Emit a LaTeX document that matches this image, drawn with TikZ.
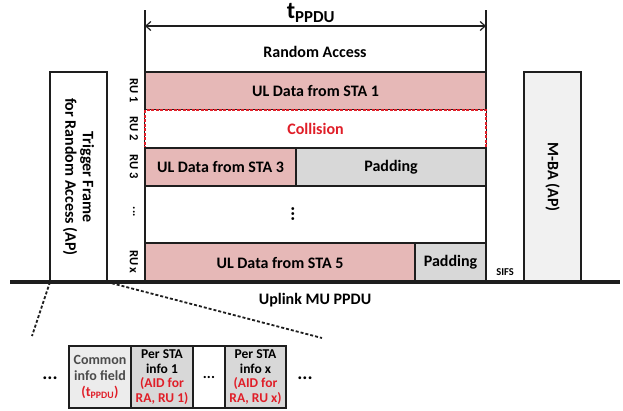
\documentclass[tikz,border=0pt]{standalone}
\usepackage{fontspec}
\setmainfont{Carlito}
\usetikzlibrary{arrows.meta,positioning,calc}
\definecolor{uldata}{RGB}{230,184,183}
\definecolor{padfill}{RGB}{216,216,216}
\definecolor{mbafill}{RGB}{241,241,241}
\definecolor{infofill}{RGB}{236,236,236}
\definecolor{collred}{RGB}{224,30,40}
\definecolor{edge}{RGB}{30,30,30}

\begin{document}
\begin{tikzpicture}[x=1pt,y=-1pt,
  font=\bfseries\fontsize{16}{17.5}\selectfont,
  slot/.style={draw=edge,line width=1.5pt,inner sep=0pt,outer sep=0pt,anchor=north west,align=center},
  data/.style={slot,fill=uldata},
  pad/.style={slot,fill=padfill},
  frame/.style={draw=edge,line width=1.5pt,inner sep=0pt,outer sep=0pt,rotate=-90,align=center,
    minimum width=210,minimum height=57},
  rulabel/.style={rotate=-90,font=\bfseries\fontsize{12.5}{14}\selectfont},
  field/.style={slot,minimum height=62,font=\bfseries\fontsize{13.5}{14.5}\selectfont},
  bound/.style={draw=edge,line width=1.5pt},
  tarrow/.style={{Straight Barb[length=5pt,width=9pt]}-{Straight Barb[length=5pt,width=9pt]},line width=1.2pt,draw=edge},
  zoomline/.style={dash pattern=on 3pt off 2pt,line width=1.8pt,draw=edge},
  ellip/.style={font=\bfseries\fontsize{19}{19}\selectfont}
]
\useasboundingbox (0,0) rectangle (623,410);

% PPDU limits and duration
\coordinate (topL) at (145,10);
\coordinate (botL) at (145,282);
\coordinate (topR) at (486,10);
\coordinate (botR) at (486,282);
\coordinate (tL) at (145,26);
\coordinate (tR) at (486,26);
\draw[bound] (topL) -- (botL);
\draw[bound] (topR) -- (botR);
\draw[tarrow] (tL) -- (tR);
\node (tppdu) at (311,13) {\fontsize{24}{24}\selectfont t\textsubscript{PPDU}};
\node (ra) at (315,52) {Random Access};

% resource units
\node[data,minimum width=341,minimum height=38] (sta1) at (145,72) {UL Data from STA 1};
\node[slot,draw=collred,fill=white,text=collred,dash pattern=on 3pt off 1.5pt,line width=1.2pt,
  minimum width=341,minimum height=38] (coll) at (145,110) {Collision};
\node[data,minimum width=151,minimum height=38] (sta3) at (145,148) {UL Data from STA 3};
\node[pad,minimum width=190,minimum height=38] (pad3) at (296,148) {Padding};
\node[ellip,rotate=-90] (vdots) at (293,214) {...};
\node[data,minimum width=270,minimum height=39] (sta5) at (145,243) {UL Data from STA 5};
\node[pad,minimum width=71,minimum height=39] (pad5) at (415,243) {Padding};

\node[rulabel] (ru1) at (134,91) {RU 1};
\node[rulabel] (ru2) at (134,129) {RU 2};
\node[rulabel] (ru3) at (134,167) {RU 3};
\node[rulabel] (rud) at (134,212) {...};
\node[rulabel] (rux) at (134,262) {RU x};

% frames around the PPDU
\node[frame,fill=white] (trig) at (78.5,177) {Trigger Frame\\for Random Access (AP)};
\node[frame,fill=mbafill] (mba) at (552.5,177) {M-BA (AP)};
\node[font=\bfseries\fontsize{10.5}{11}\selectfont] (sifs) at (505,272) {SIFS};

\coordinate (axisL) at (10,282);
\coordinate (axisR) at (620,282);
\draw[draw=edge,line width=3.5pt] (axisL) -- (axisR);
\node (ulmu) at (315,300) {Uplink MU PPDU};

% trigger frame content
\coordinate (zoomL) at (32,336);
\coordinate (zoomR) at (322,338);
\draw[zoomline] (trig.south east) -- (zoomL);
\draw[zoomline] (trig.north east) -- (zoomR);

\node[ellip] (ldots) at (50,378) {...};
\node[field,fill=infofill,minimum width=62,text=edge!80,font=\bfseries\fontsize{14}{16}\selectfont] (cif) at (69,346)
  {Common\\info field\\\textcolor{collred}{(t\textsubscript{PPDU})}};
\node[field,fill=padfill,minimum width=62] (sta1info) at (131,346)
  {Per STA\\info 1\\\textcolor{collred}{(AID for}\\\textcolor{collred}{RA, RU 1)}};
\node[field,fill=white,minimum width=32] (mdots) at (193,346) {\fontsize{15}{15}\selectfont...};
\node[field,fill=padfill,minimum width=61] (staxinfo) at (225,346)
  {Per STA\\info x\\\textcolor{collred}{(AID for}\\\textcolor{collred}{RA, RU x)}};
\node[ellip] (rdots) at (305,378) {...};
\end{tikzpicture}
\end{document}
